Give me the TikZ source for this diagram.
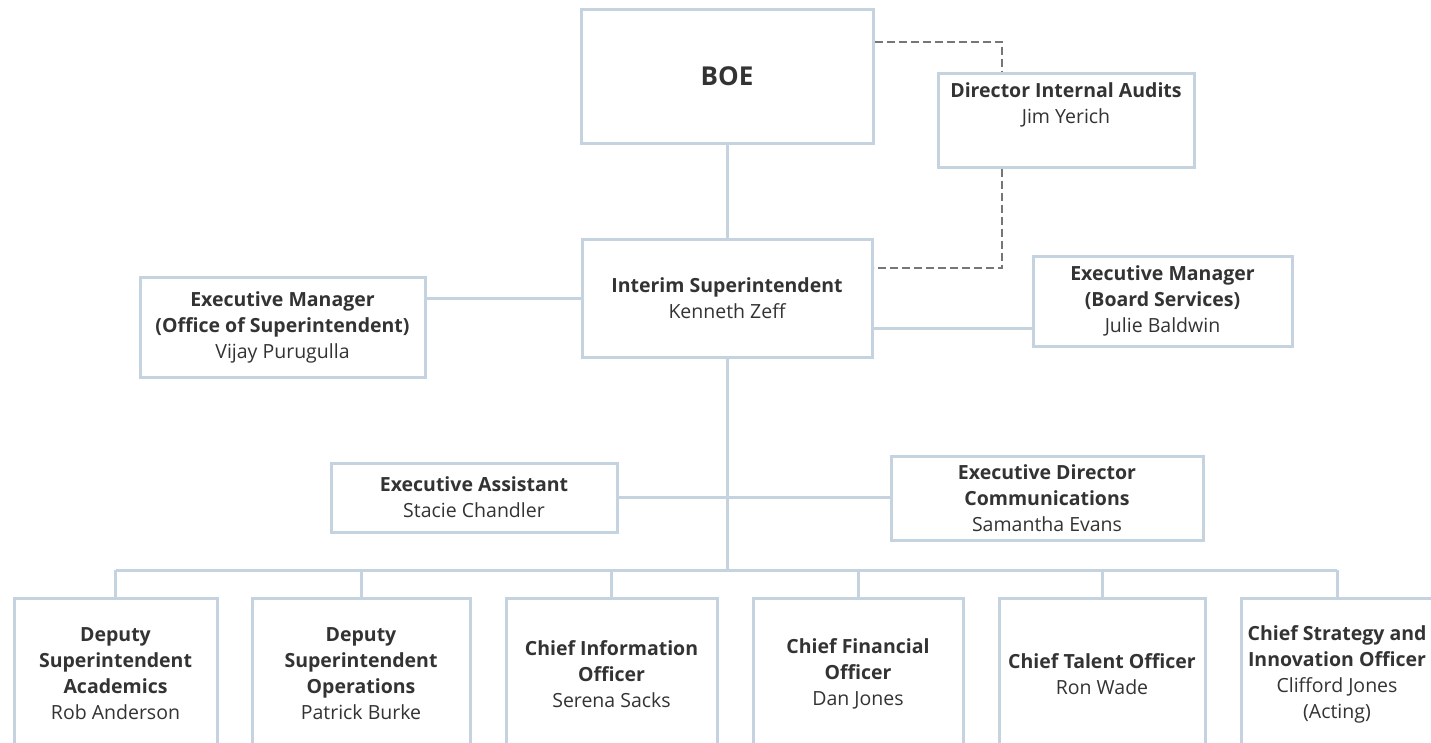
\documentclass[tikz,border=0pt]{standalone}
\usepackage{fontspec}
\setmainfont{Open Sans}
\definecolor{boxline}{RGB}{197,211,224}
\definecolor{dashline}{RGB}{118,118,118}
\definecolor{textgray}{RGB}{51,51,51}

\begin{document}
\begin{tikzpicture}[x=1pt,y=-1pt,
	post/.style={draw=boxline,line width=3pt,fill=white,text=textgray,align=center,inner sep=0pt,font=\fontsize{19.5}{26}\selectfont},
	link/.style={draw=boxline,line width=3pt},
	audit/.style={draw=dashline,line width=2.2pt,dash pattern=on 8pt off 4pt}]
	
	\useasboundingbox (0,0) rectangle (1431,742);
	\clip (0,0) rectangle (1431,742);
	
	\node[post,minimum width=292,minimum height=134] (boe) at (727,76) {\bfseries\fontsize{26}{30}\selectfont BOE};
	\node[post,minimum width=256,minimum height=94] (dia) at (1066,120) {\textbf{Director Internal Audits}\\Jim Yerich\\[8pt]};
	\node[post,minimum width=290,minimum height=118] (sup) at (727,298) {\textbf{Interim Superintendent}\\Kenneth Zeff};
	\node[post,minimum width=285,minimum height=100] (emos) at (282.5,327) {\textbf{Executive Manager}\\\textbf{(Office of Superintendent)}\\Vijay Purugulla};
	\node[post,minimum width=259,minimum height=90] (emb) at (1162.5,301) {\textbf{Executive Manager}\\\textbf{(Board Services)}\\Julie Baldwin};
	\node[post,minimum width=286,minimum height=69] (ea) at (474,497.5) {\textbf{Executive Assistant}\\Stacie Chandler};
	\node[post,minimum width=312,minimum height=84] (edc) at (1047,498) {\textbf{Executive Director}\\\textbf{Communications}\\Samantha Evans};
	
	\node[post,minimum width=203,minimum height=152] (dsa) at (115.5,674) {\textbf{Deputy}\\\textbf{Superintendent}\\\textbf{Academics}\\Rob Anderson};
	\node[post,minimum width=218,minimum height=152] (dso) at (361,674) {\textbf{Deputy}\\\textbf{Superintendent}\\\textbf{Operations}\\Patrick Burke};
	\node[post,minimum width=211,minimum height=152] (cio) at (611.5,674) {\textbf{Chief Information}\\\textbf{Officer}\\Serena Sacks};
	\node[post,minimum width=210,minimum height=152] (cfo) at (858,674) {\textbf{Chief Financial}\\\textbf{Officer}\\Dan Jones};
	\node[post,minimum width=206,minimum height=152] (cto) at (1102,674) {\textbf{Chief Talent Officer}\\Ron Wade};
	\node[post,minimum width=192,minimum height=152] (csio) at (1337,674) {\textbf{Chief Strategy and}\\\textbf{Innovation Officer}\\Clifford Jones\\(Acting)};
	
	\draw[link] (boe.south) -- (sup.north);
	\draw[link] (emos.east |- sup.west) -- (sup.west);
	\draw[link] (sup.east |- 0,328) -- (emb.west |- 0,328);
	\draw[link] (ea.east) -- (edc.west |- ea.east);
	\draw[link] (sup.south) -- (sup.south |- 0,570);
	\draw[link] (dsa.north |- 0,570) -- (csio.north |- 0,570);
	\foreach \who in {dsa,dso,cio,cfo,cto,csio}
		\draw[link] (\who.north) -- (\who.north |- 0,570);
	
	\draw[audit] (boe.east |- 0,42) -| (dia.north -| 1002,0);
	\draw[audit] (dia.south -| 1002,0) |- (sup.east |- 0,268);
\end{tikzpicture}
\end{document}
